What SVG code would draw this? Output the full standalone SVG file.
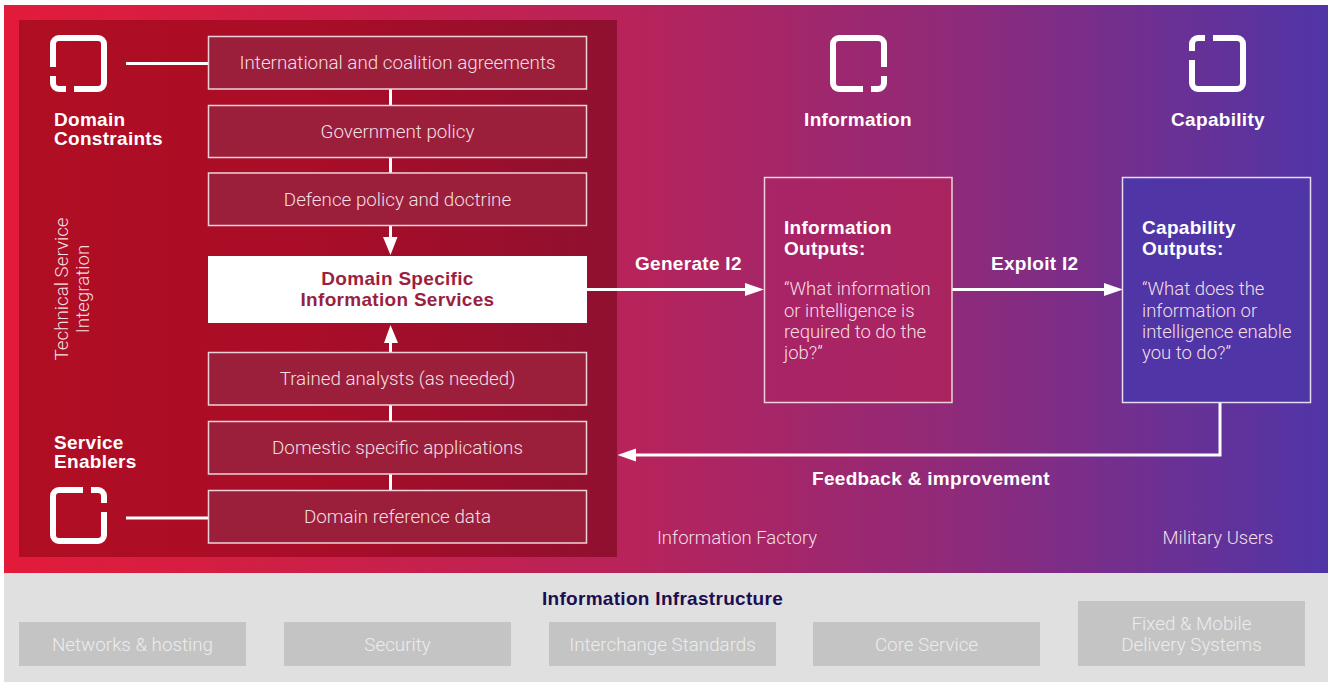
<svg xmlns="http://www.w3.org/2000/svg" width="1330" height="682" viewBox="0 0 1330 682">
<style>
text{font-family:"Liberation Sans",Arial,sans-serif}
.l{font-family:Roboto,"Liberation Sans",sans-serif;font-weight:300;font-size:18.5px;fill:#f4dfe4}
.n{font-size:18.8px}
.m{text-anchor:middle}
.b{font-weight:700;font-size:19px;letter-spacing:.3px;fill:#fff}
.g{font-family:Roboto,"Liberation Sans",sans-serif;font-weight:300;font-size:18.8px;fill:#ececec;text-anchor:middle}
.box{fill:#9b1f3a;stroke:#ecd3d9;stroke-width:1.5}
.gb{fill:#c4c4c4}
.c{fill:none;stroke:#fff;stroke-width:3}
.ah{fill:#fff}
.ic{fill:none;stroke:#fff;stroke-width:6}
</style>
<defs>
<linearGradient id="bg" x1="0" x2="1" y1="0" y2="0">
<stop offset="0" stop-color="#e31b3b"/><stop offset=".2" stop-color="#d01f45"/><stop offset=".47" stop-color="#b8235a"/><stop offset=".72" stop-color="#8f2a7a"/><stop offset="1" stop-color="#5035a7"/>
</linearGradient>
<linearGradient id="pn" x1="0" x2="1" y1="0" y2="0">
<stop offset="0" stop-color="#b00e22"/><stop offset=".5" stop-color="#a90d28"/><stop offset="1" stop-color="#8f1030"/>
</linearGradient>
<linearGradient id="ib" x1="0" x2="1" y1="0" y2="0">
<stop offset="0" stop-color="#a92468"/><stop offset="1" stop-color="#a9245f"/>
</linearGradient>
<symbol id="icon" viewBox="0 0 57 57" width="57" height="57">
<path class="ic" d="M54 32V9a6 6 0 0 0-6-6H9a6 6 0 0 0-6 6V48a6 6 0 0 0 6 6H33M41 54H48a6 6 0 0 0 6-6V41"/>
</symbol>
</defs>
<rect width="1330" height="682" fill="#fff"/>
<rect x="4" y="5" width="1324" height="568" fill="url(#bg)"/>
<rect x="19" y="20" width="598" height="537" fill="url(#pn)"/>
<rect x="4" y="573" width="1324" height="109" fill="#e0e0e0"/>

<g id="connectors">
<path class="c" d="M126 63.5H208M126 518H208M390.500 89V105M390.500 157V173M390.500 225V240M390.500 340V352M390.500 405V421M390.500 474V490M587 289.500H748M952 289.500H1107M1220 403V455H634"/>
<path class="ah" d="M383 237H397.500L390.500 255ZM384 343H398L390.500 325ZM745 283L764 289.500L745 296ZM1104 283L1123 289.500L1104 296ZM636 448.500L617.500 455L636 461.500Z"/>
</g>

<g id="domain-constraints">
<use href="#icon" transform="translate(107 35) scale(-1 1)"/>
<text class="b" x="54" y="126">Domain</text><text class="b" x="54" y="145">Constraints</text>
</g>
<g id="service-enablers">
<use href="#icon" transform="translate(50 544) scale(1 -1)"/>
<text class="b" x="54" y="449">Service</text><text class="b" x="54" y="468">Enablers</text>
</g>
<g id="technical-service">
<text class="l n m" transform="translate(67.500 289) rotate(-90)">Technical Service</text>
<text class="l n m" transform="translate(89 289) rotate(-90)">Integration</text>
</g>
<g id="n1"><rect class="box" x="208.500" y="36.500" width="378" height="52.500"/><text class="l n m" x="397.500" y="69">International and coalition agreements</text></g>
<g id="n2"><rect class="box" x="208.500" y="105.500" width="378" height="52"/><text class="l n m" x="397.500" y="138">Government policy</text></g>
<g id="n3"><rect class="box" x="208.500" y="173" width="378" height="52.500"/><text class="l n m" x="397.500" y="206">Defence policy and doctrine</text></g>
<g id="n4"><rect x="208" y="256" width="379" height="67" fill="#fff"/>
<text class="b m" x="397.500" y="285" style="fill:#9b1f3f">Domain Specific</text><text class="b m" x="397.500" y="306" style="fill:#9b1f3f">Information Services</text></g>
<g id="n5"><rect class="box" x="208.500" y="352.500" width="378" height="52.500"/><text class="l n m" x="397.500" y="385">Trained analysts (as needed)</text></g>
<g id="n6"><rect class="box" x="208.500" y="421.500" width="378" height="52.500"/><text class="l n m" x="397.500" y="454">Domestic specific applications</text></g>
<g id="n7"><rect class="box" x="208.500" y="490.500" width="378" height="52.500"/><text class="l n m" x="397.500" y="523">Domain reference data</text></g>

<g id="information">
<use href="#icon" x="830" y="35"/>
<text class="b m" x="858" y="126">Information</text>
</g>
<g id="capability">
<use href="#icon" transform="translate(1246 92) rotate(180)"/>
<text class="b m" x="1218" y="126">Capability</text>
</g>
<text class="b" x="635" y="270">Generate I2</text>
<text class="b" x="991" y="270">Exploit I2</text>
<text class="b" x="812" y="485">Feedback &amp; improvement</text>

<g id="information-outputs">
<rect x="764.500" y="177.500" width="187.500" height="225" fill="url(#ib)" stroke="#ecd3d9" stroke-width="1.500"/>
<text class="b" x="784" y="234">Information</text><text class="b" x="784" y="255">Outputs:</text>
<text class="l" x="784" y="295">“What information</text><text class="l" x="784" y="316.500">or intelligence is</text><text class="l" x="784" y="338">required to do the</text><text class="l" x="784" y="359">job?”</text>
</g>
<g id="capability-outputs">
<rect x="1122.500" y="177.500" width="188" height="225" fill="#5035a7" stroke="#e4dcf0" stroke-width="1.500"/>
<text class="b" x="1142" y="234">Capability</text><text class="b" x="1142" y="255">Outputs:</text>
<text class="l" x="1142" y="295">“What does the</text><text class="l" x="1142" y="316.500">information or</text><text class="l" x="1142" y="338">intelligence enable</text><text class="l" x="1142" y="359">you to do?”</text>
</g>
<text class="l m" x="737" y="544">Information Factory</text>
<text class="l m" x="1218" y="544">Military Users</text>

<g id="infrastructure">
<text class="b m" x="662.500" y="605" style="fill:#1c0d50">Information Infrastructure</text>
<rect class="gb" x="19" y="622" width="227" height="44"/><text class="g" x="132.500" y="651">Networks &amp; hosting</text>
<rect class="gb" x="284" y="622" width="227" height="44"/><text class="g" x="397.500" y="651">Security</text>
<rect class="gb" x="549" y="622" width="227" height="44"/><text class="g" x="662.500" y="651">Interchange Standards</text>
<rect class="gb" x="813" y="622" width="227" height="44"/><text class="g" x="926.500" y="651">Core Service</text>
<rect class="gb" x="1078" y="601" width="227" height="65"/><text class="g" x="1191.500" y="630">Fixed &amp; Mobile</text><text class="g" x="1191.500" y="651">Delivery Systems</text>
</g>
</svg>
